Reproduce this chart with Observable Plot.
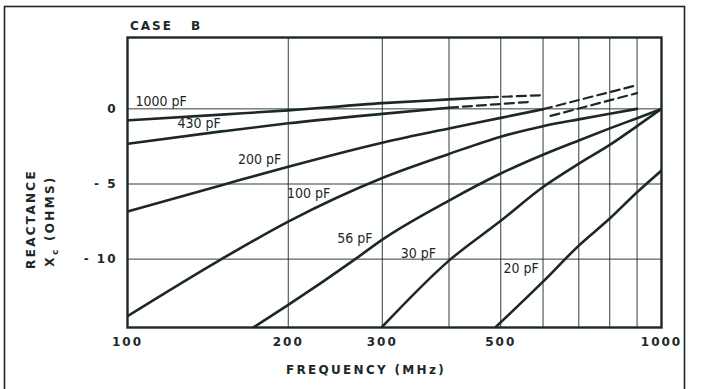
<!DOCTYPE html>
<html><head><meta charset="utf-8">
<script src="https://cdn.jsdelivr.net/npm/d3@7"></script>
<script src="https://cdn.jsdelivr.net/npm/@observablehq/plot@0.6"></script>
<style>
html,body{margin:0;padding:0;background:#fff;}
#chart{position:relative;width:701px;height:389px;overflow:hidden;background:#fff;}
</style></head><body><div id="chart"></div>
<script>
// ---- data (frequency in MHz, reactance Xc in ohms) ----
const f1000 = [100, 150, 200, 300, 400, 475];
const x1000 = [-0.77, -0.38, -0.1, 0.38, 0.63, 0.77];
const f1000dash = [475, 600];
const x1000dash = [0.77, 0.91];

const f430 = [100, 150, 200, 300, 400];
const x430 = [-2.32, -1.5, -0.96, -0.33, 0.08];
const f430dash = [400, 570];
const x430dash = [0.08, 0.47];

const f200 = [100, 150, 200, 300, 400, 500, 600];
const x200 = [-6.83, -5.08, -3.85, -2.25, -1.3, -0.6, -0.02];
const f200dash = [600, 900];
const x200dash = [-0.02, 1.58];

const fAltDash = [620, 900];
const xAltDash = [-0.47, 1.05];

const f100 = [100, 150, 200, 300, 400, 500, 600, 700, 800, 900];
const x100 = [-13.8, -10.0, -7.5, -4.6, -3.0, -1.85, -1.15, -0.7, -0.33, 0.0];

const f56 = [172, 200, 267, 300, 400, 500, 600, 700, 800, 900, 1000];
const x56 = [-14.55, -13.05, -10.0, -8.7, -6.1, -4.3, -3.05, -2.1, -1.3, -0.62, 0.0];

const f30 = [300, 400, 500, 600, 700, 800, 900, 1000];
const x30 = [-14.5, -10.1, -7.45, -5.2, -3.65, -2.4, -1.15, 0.0];

const f20 = [490, 600, 700, 800, 900, 1000];
const x20 = [-14.5, -11.5, -9.1, -7.3, -5.55, -4.1];

const labelText = ["1000 pF", "430 pF", "200 pF", "100 pF", "56 pF", "30 pF", "20 pF"];
const labelFreq = [103.5, 124, 161, 199, 247, 325, 506];
const labelReac = [0.5, -0.95, -3.4, -5.6, -8.6, -9.6, -10.6];

const xTicks = [100, 200, 300, 500, 700, 1000];
const xGrid = [100, 200, 300, 400, 500, 600, 700, 800, 900, 1000];
const yTicks = [0, -5, -10];

// ---- build tables ----
function rowsOf(name, fs, xs) { return fs.map((f, i) => ({series: name, f, x: xs[i]})); }
const solidRows = [
  ...rowsOf("1000 pF", f1000, x1000),
  ...rowsOf("430 pF", f430, x430),
  ...rowsOf("200 pF", f200, x200),
  ...rowsOf("100 pF", f100, x100),
  ...rowsOf("56 pF", f56, x56),
  ...rowsOf("30 pF", f30, x30),
  ...rowsOf("20 pF", f20, x20)
];
const dashRows = [
  ...rowsOf("1000 pF", f1000dash, x1000dash),
  ...rowsOf("430 pF", f430dash, x430dash),
  ...rowsOf("200 pF", f200dash, x200dash),
  ...rowsOf("alt", fAltDash, xAltDash)
];
const labels = labelText.map((t, i) => ({t, f: labelFreq[i], x: labelReac[i]}));

const ink = "#1c2828";
const boldFont = "DejaVu Sans";

const plot = Plot.plot({
  width: 701, height: 389,
  marginLeft: 127, marginRight: 40, marginTop: 37, marginBottom: 62,
  style: {background: "#fff", color: ink, fontFamily: boldFont, fontSize: "12px", fontWeight: "bold"},
  x: {type: "log", domain: [100, 1000], label: null},
  y: {domain: [-14.55, 4.75], label: null},
  marks: [
    Plot.gridX(xGrid, {stroke: ink, strokeOpacity: 0.9, strokeWidth: 1}),
    Plot.gridY(yTicks, {stroke: ink, strokeOpacity: 0.9, strokeWidth: 1}),
    Plot.line(solidRows, {x: "f", y: "x", z: "series", stroke: ink, strokeWidth: 2.6, curve: "monotone-x", clip: true}),
    Plot.line(dashRows, {x: "f", y: "x", z: "series", stroke: ink, strokeWidth: 2.2, strokeDasharray: "9,5", clip: true}),
    Plot.frame({stroke: ink, strokeWidth: 2.4}),
    Plot.text(labels, {x: "f", y: "x", text: "t", textAnchor: "start", fill: ink,
      fontFamily: "Liberation Sans Narrow, DejaVu Sans Condensed, sans-serif", fontWeight: "normal", fontSize: 14}),
    Plot.axisX(xTicks, {tickSize: 0, tickPadding: 10, tickFormat: d => String(d), fill: ink}),
    Plot.axisY(yTicks, {tickSize: 0, tickPadding: 10, tickFormat: d => d === 0 ? "0" : "- " + Math.abs(d), fill: ink})
  ]
});

document.getElementById("chart").appendChild(plot);

const svg = d3.select(plot);
svg.selectAll('g[aria-label="x-axis tick label"] text, g[aria-label="y-axis tick label"] text')
  .style("letter-spacing", "2px");

// outer border of the figure
svg.append("rect").attr("x", 4.5).attr("y", 6.5).attr("width", 680).attr("height", 400)
  .attr("fill", "none").attr("stroke", ink).attr("stroke-width", 1.6);

// title
svg.append("text").attr("x", 130).attr("y", 29.5).attr("text-anchor", "start").text("CASE B")
  .attr("fill", ink).style("font", "bold 12px 'DejaVu Sans'").style("letter-spacing", "2px")
  .style("word-spacing", "12px");

// x axis label
svg.append("text").attr("x", 366).attr("y", 373.5).attr("text-anchor", "middle")
  .text("FREQUENCY (MHz)").attr("fill", ink)
  .style("font", "bold 12px 'DejaVu Sans'").style("letter-spacing", "2.3px");

// y axis labels (rotated)
svg.append("text").attr("transform", "translate(35,219) rotate(-90)").attr("text-anchor", "middle")
  .text("REACTANCE").attr("fill", ink)
  .style("font", "bold 12px 'DejaVu Sans'").style("letter-spacing", "2.3px");
const yl2 = svg.append("text").attr("transform", "translate(54,221) rotate(-90)").attr("text-anchor", "middle")
  .attr("fill", ink).style("font", "bold 12px 'DejaVu Sans'").style("letter-spacing", "2.3px");
yl2.append("tspan").text("X");
yl2.append("tspan").attr("dy", 4).style("font-size", "9px").text("c");
yl2.append("tspan").attr("dy", -4).text("\u00a0(OHMS)");
</script></body></html>
